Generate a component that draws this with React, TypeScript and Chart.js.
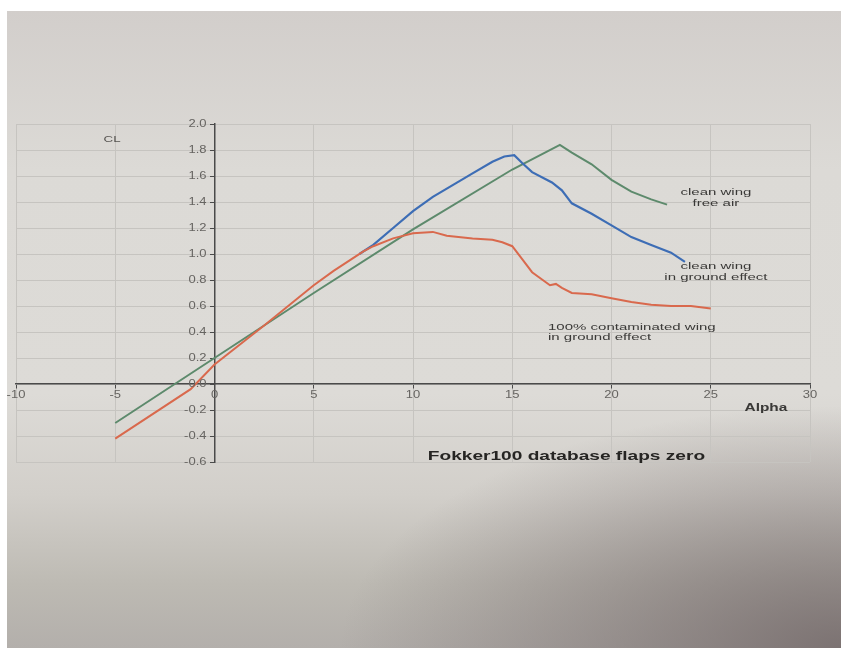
import React, { useEffect, useRef } from "react";
import { Chart, registerables } from "chart.js";

Chart.register(...registerables);

// Clean wing, free air
const alphaFree = [-5, 0, 2.5, 5, 10, 15, 17.4, 18, 19, 20, 21, 22, 22.8];
const clFree = [-0.3, 0.2, 0.45, 0.7, 1.19, 1.65, 1.84, 1.78, 1.69, 1.57, 1.48, 1.42, 1.38];

// Clean wing, in ground effect
const alphaGround = [7.3, 8, 9, 10, 11, 12, 13, 14, 14.6, 15.1, 15.5, 16, 17, 17.5, 18, 19, 20, 21, 22, 23, 23.7];
const clGround = [1.0, 1.07, 1.2, 1.33, 1.44, 1.53, 1.62, 1.71, 1.75, 1.76, 1.7, 1.63, 1.55, 1.49, 1.39, 1.31, 1.22, 1.13, 1.07, 1.01, 0.94];

// 100% contaminated wing, in ground effect
const alphaCont = [-5, -1.2, 0, 2.5, 5, 6, 7, 7.5, 8, 9, 10, 11, 11.7, 13, 14, 14.5, 15, 15.5, 16, 16.9, 17.2, 17.5, 18, 19, 20, 21, 22, 23, 24, 25];
const clCont = [-0.42, -0.04, 0.15, 0.45, 0.76, 0.87, 0.97, 1.02, 1.06, 1.12, 1.16, 1.17, 1.14, 1.12, 1.11, 1.09, 1.06, 0.96, 0.86, 0.76, 0.77, 0.74, 0.7, 0.69, 0.66, 0.63, 0.61, 0.6, 0.6, 0.58];

const xMin = -10, xMax = 30, xStep = 5;
const yMin = -0.6, yMax = 2.0, yStep = 0.2;

const seriesNames = ["clean wing free air", "clean wing in ground effect", "100% contaminated wing in ground effect"];
const seriesColors = ["#5d8a6c", "#3d6db5", "#d9694d"];

const toPoints = (xs: number[], ys: number[]) => xs.map((x, i) => ({ x, y: ys[i] }));

function stretchText(ctx: CanvasRenderingContext2D, text: string, x: number, y: number, align: CanvasTextAlign, font: string, color: string, sx: number) {
  ctx.save();
  ctx.translate(x, y);
  ctx.scale(sx, 1);
  ctx.font = font;
  ctx.fillStyle = color;
  ctx.textAlign = align;
  ctx.textBaseline = "middle";
  ctx.fillText(text, 0, 0);
  ctx.restore();
}

const textPlugin = {
  id: "textPlugin",
  afterDraw(chart: any) {
    const ctx = chart.ctx as CanvasRenderingContext2D;
    const xs = chart.scales.x;
    const ys = chart.scales.y;
    const x0 = xs.getPixelForValue(0);
    const y0 = ys.getPixelForValue(0);
    const tickFont = "10px 'Liberation Sans', Arial, sans-serif";
    ys.ticks.forEach((t: any) => {
      stretchText(ctx, Number(t.value).toFixed(1), x0 - 8, ys.getPixelForValue(t.value), "right", tickFont, "#666461", 1.3);
    });
    xs.ticks.forEach((t: any) => {
      stretchText(ctx, String(Math.round(t.value)), xs.getPixelForValue(t.value), y0 + 11, "center", tickFont, "#666461", 1.3);
    });
    const P = (x: number, y: number) => [xs.getPixelForValue(x), ys.getPixelForValue(y)];
    const annFont = "9.5px 'Liberation Sans', Arial, sans-serif";
    const annColor = "#3a3937";
    let p = P(-5.16, 1.885);
    stretchText(ctx, "CL", p[0], p[1], "center", annFont, "#555350", 1.4);
    p = P(25.26, 1.475);
    stretchText(ctx, "clean wing", p[0], p[1], "center", annFont, annColor, 1.58);
    p = P(25.26, 1.39);
    stretchText(ctx, "free air", p[0], p[1], "center", annFont, annColor, 1.58);
    p = P(25.26, 0.905);
    stretchText(ctx, "clean wing", p[0], p[1], "center", annFont, annColor, 1.58);
    p = P(25.26, 0.82);
    stretchText(ctx, "in ground effect", p[0], p[1], "center", annFont, annColor, 1.58);
    p = P(16.8, 0.435);
    stretchText(ctx, "100% contaminated wing", p[0], p[1], "left", annFont, annColor, 1.58);
    p = P(16.8, 0.355);
    stretchText(ctx, "in ground effect", p[0], p[1], "left", annFont, annColor, 1.58);
    p = P(27.78, -0.185);
    stretchText(ctx, "Alpha", p[0], p[1], "center", "bold 11px 'Liberation Sans', Arial, sans-serif", "#3a3937", 1.4);
    p = P(17.73, -0.56);
    stretchText(ctx, "Fokker100 database flaps zero", p[0], p[1], "center", "bold 13px 'Liberation Sans', Arial, sans-serif", "#262523", 1.47);
  },
};

export default function App() {
  const ref = useRef<HTMLCanvasElement | null>(null);
  useEffect(() => {
    if (!ref.current) return;
    const chart = new Chart(ref.current, {
      type: "line",
      data: {
        datasets: [
          { label: seriesNames[0], data: toPoints(alphaFree, clFree), borderColor: seriesColors[0], borderWidth: 2, pointRadius: 0, tension: 0, order: 3 },
          { label: seriesNames[1], data: toPoints(alphaGround, clGround), borderColor: seriesColors[1], borderWidth: 2.2, pointRadius: 0, tension: 0, order: 2 },
          { label: seriesNames[2], data: toPoints(alphaCont, clCont), borderColor: seriesColors[2], borderWidth: 2, pointRadius: 0, tension: 0, order: 1 },
        ],
      },
      options: {
        responsive: false,
        animation: false,
        devicePixelRatio: 1,
        layout: { padding: { left: 16, right: 31, top: 124, bottom: 188 } },
        plugins: { legend: { display: false }, tooltip: { enabled: false }, title: { display: false } },
        scales: {
          x: {
            type: "linear",
            min: xMin,
            max: xMax,
            position: { y: 0 } as any,
            ticks: { stepSize: xStep, display: false },
            grid: { color: "#c6c4c0", lineWidth: 1, drawTicks: true, tickLength: 4, tickColor: "#4a4a4a" },
            border: { color: "#4a4a4a", width: 1.5 },
          },
          y: {
            type: "linear",
            min: yMin,
            max: yMax,
            position: { x: 0 } as any,
            ticks: { stepSize: yStep, display: false },
            grid: { color: "#c6c4c0", lineWidth: 1, drawTicks: true, tickLength: 4, tickColor: "#4a4a4a" },
            border: { color: "#4a4a4a", width: 1.5 },
          },
        },
      },
      plugins: [textPlugin],
    });
    return () => chart.destroy();
  }, []);

  return (
    <div style={{ position: "fixed", left: 0, top: 0, width: 841, height: 650, background: "#ffffff", overflow: "hidden" }}>
      <div
        style={{
          position: "absolute",
          left: 7,
          top: 11,
          right: 0,
          bottom: 2,
          background:
            "radial-gradient(ellipse 60% 38% at 100% 100%, rgba(118,108,108,0.9) 0%, rgba(118,108,108,0) 100%), linear-gradient(180deg, #d2cecb 0%, #dcdad6 25%, #dddbd7 60%, #d2cfca 76%, #bdbab3 90%, #b3afab 100%)",
        }}
      />
      <canvas ref={ref} width={841} height={650} style={{ position: "absolute", left: 0, top: 0 }} />
    </div>
  );
}
